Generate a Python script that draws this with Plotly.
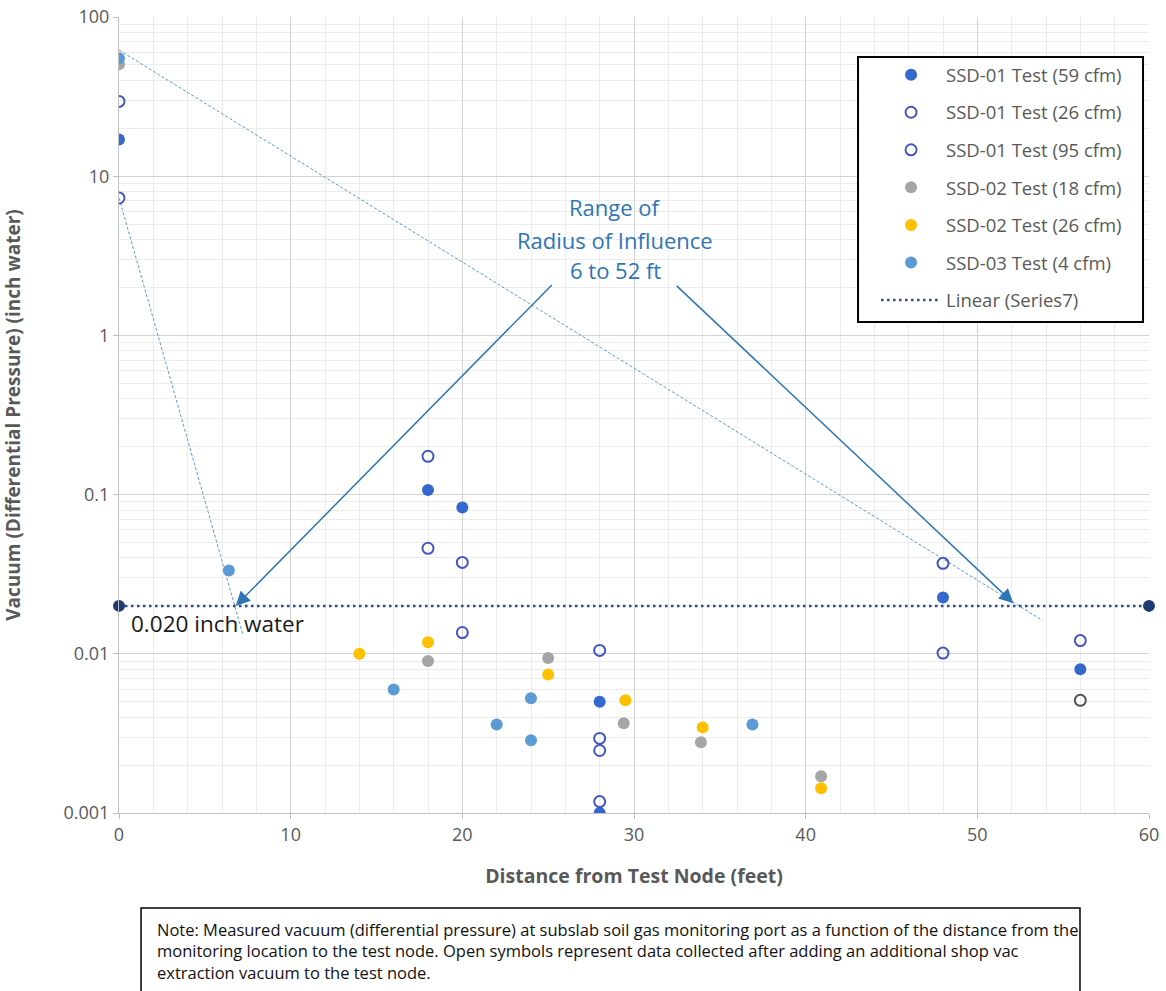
import math
import plotly.graph_objects as go

# ---------------- data ----------------
ssd01_59_x = [0, 18, 20, 28, 28, 48, 56]
ssd01_59_y = [17, 0.107, 0.083, 0.005, 0.001, 0.0226, 0.008]

ssd01_26_x = [0, 18, 20, 28, 28, 48, 56]
ssd01_26_y = [7.3, 0.046, 0.0136, 0.00247, 0.00118, 0.0101, 0.0051]

ssd01_95_x = [0, 18, 20, 28, 28, 48, 56]
ssd01_95_y = [29.5, 0.174, 0.0375, 0.0105, 0.00294, 0.037, 0.0121]

ssd02_18_x = [0, 18, 25, 29.4, 33.9, 40.9]
ssd02_18_y = [50.4, 0.0090, 0.0094, 0.00366, 0.00278, 0.0017]

ssd02_26_x = [14, 18, 25, 29.5, 34, 40.9]
ssd02_26_y = [0.0100, 0.0118, 0.0074, 0.0051, 0.00345, 0.00143]

ssd03_4_x = [0, 6.4, 16, 22, 24, 24, 36.9]
ssd03_4_y = [55, 0.0334, 0.00597, 0.0036, 0.00525, 0.00286, 0.0036]

series7_x = [0, 60]
series7_y = [0.02, 0.02]

# hand-drawn guide lines (log-linear decay lines)
guide1_x = [0, 53.8]
guide1_y = [62, 0.0162]
guide2_x = [0, 7.2]
guide2_y = [7.3, 0.0134]

# arrows: tails and heads
arrow_tails_x = [25.3, 32.4]
arrow_tails_y = [2.12, 2.09]
arrow_heads_x = [6.8, 52.1]
arrow_heads_y = [0.020, 0.0208]

roi_lines = ["Range of", "Radius of Influence", "6 to 52 ft"]
roi_x = 28.9
roi_y = [6.4, 3.95, 2.56]

threshold_label = "0.020 inch water"

note_text = ("Note: Measured vacuum (differential pressure) at subslab soil gas monitoring port as a function of the distance from the<br>"
             "monitoring location to the test node. Open symbols represent data collected after adding an additional shop vac<br>"
             "extraction vacuum to the test node.")

# ---------------- styles ----------------
FONT = "Open Sans"
GRAY_TXT = "#595959"
BLUE_FILL = "#3568CC"
BLUE_OPEN = "#4656C0"
GRAY_PT = "#A5A5A5"
YELLOW = "#FFC000"
LIGHT_BLUE = "#5B9BD5"
NAVY = "#1F3A6E"
ARROW = "#2E75B6"
MS = 12

fig = go.Figure()

# guide lines (no legend)
for gx, gy in ((guide1_x, guide1_y), (guide2_x, guide2_y)):
    fig.add_trace(go.Scatter(x=gx, y=gy, mode="lines", showlegend=False, hoverinfo="skip",
                             line=dict(color=LIGHT_BLUE, width=1, dash="3px,2px")))

open26_colors = [BLUE_OPEN] * (len(ssd01_26_x) - 1) + ["#555555"]

fig.add_trace(go.Scatter(x=ssd01_59_x, y=ssd01_59_y, mode="markers", name="SSD-01 Test (59 cfm)",
                         legendgroup="a", marker=dict(color=BLUE_FILL, size=MS)))
fig.add_trace(go.Scatter(x=ssd01_26_x, y=ssd01_26_y, mode="markers", name="SSD-01 Test (26 cfm)",
                         legendgroup="b", marker=dict(symbol="circle-open", color=open26_colors, size=MS - 1,
                                                      line=dict(width=2))))
fig.add_trace(go.Scatter(x=ssd01_95_x, y=ssd01_95_y, mode="markers", name="SSD-01 Test (95 cfm)",
                         legendgroup="c", marker=dict(symbol="circle-open", color=BLUE_OPEN, size=MS - 1,
                                                      line=dict(width=2))))
fig.add_trace(go.Scatter(x=ssd02_18_x, y=ssd02_18_y, mode="markers", name="SSD-02 Test (18 cfm)",
                         legendgroup="d", marker=dict(color=GRAY_PT, size=MS)))
fig.add_trace(go.Scatter(x=ssd02_26_x, y=ssd02_26_y, mode="markers", name="SSD-02 Test (26 cfm)",
                         legendgroup="e", marker=dict(color=YELLOW, size=MS)))
fig.add_trace(go.Scatter(x=ssd03_4_x, y=ssd03_4_y, mode="markers", name="SSD-03 Test (4 cfm)",
                         legendgroup="f", marker=dict(color=LIGHT_BLUE, size=MS)))
fig.add_trace(go.Scatter(x=series7_x, y=series7_y, mode="lines", name="Linear (Series7)",
                         legendgroup="g", line=dict(color="#2B4A8B", width=2.5, dash="2.5px,3.5px")))
fig.add_trace(go.Scatter(x=series7_x, y=series7_y, mode="markers", showlegend=False, cliponaxis=False,
                         marker=dict(color=NAVY, size=MS)))

annotations = []
for tx, ty, hx, hy in zip(arrow_tails_x, arrow_tails_y, arrow_heads_x, arrow_heads_y):
    annotations.append(dict(x=hx, y=math.log10(hy), ax=tx, ay=math.log10(ty), xref="x", yref="y",
                            axref="x", ayref="y", showarrow=True, arrowhead=2, arrowsize=1.9,
                            arrowwidth=1.5, arrowcolor=ARROW, text=""))
for line, ly in zip(roi_lines, roi_y):
    annotations.append(dict(x=roi_x, y=math.log10(ly), xref="x", yref="y", text=line, showarrow=False,
                            font=dict(family=FONT, size=22, color=ARROW), xanchor="center", yanchor="middle"))
annotations.append(dict(x=0.6, y=math.log10(0.0155), xref="x", yref="y", text=threshold_label,
                        showarrow=False, xanchor="left", yanchor="middle",
                        font=dict(family=FONT, size=22.5, color="#1a1a1a")))
annotations.append(dict(x=0.035, y=-0.1294, xref="paper", yref="paper", text=note_text, showarrow=False,
                        xanchor="left", yanchor="top", align="left",
                        font=dict(family=FONT, size=16.5, color="#111111")))

shapes = [
    # legend frame
    dict(type="rect", xref="paper", yref="paper", x0=0.7175, x1=0.9942, y0=0.6168, y1=0.9497,
         fillcolor="white", line=dict(color="black", width=2), layer="above"),
    # note frame (runs off the bottom of the page, as in the reference)
    dict(type="rect", xref="paper", yref="paper", x0=0.0214, x1=0.9330, y0=-0.35, y1=-0.1194,
         fillcolor="rgba(0,0,0,0)", line=dict(color="black", width=1.5)),
]

fig.update_layout(
    width=1166, height=991,
    margin=dict(l=119, r=17, t=17, b=178),
    paper_bgcolor="white", plot_bgcolor="white",
    font=dict(family=FONT, color=GRAY_TXT, size=15),
    annotations=annotations, shapes=shapes,
    legend=dict(x=0.735, y=0.9508, xanchor="left", yanchor="top", bgcolor="rgba(0,0,0,0)",
                borderwidth=0, font=dict(family=FONT, size=18.5, color=GRAY_TXT),
                itemwidth=60, tracegroupgap=10.5, traceorder="grouped"),
)
fig.update_xaxes(range=[0, 60], dtick=10, tick0=0, showgrid=True, gridcolor="#D3D3D3", gridwidth=1,
                 minor=dict(dtick=2, showgrid=True, gridcolor="#ECECEC", gridwidth=1),
                 zeroline=False, showline=True, linecolor="#BFBFBF", ticks="outside", ticklen=5,
                 tickcolor="#BFBFBF", tickfont=dict(size=18, color=GRAY_TXT), automargin=False,
                 ticklabeloverflow="allow",
                 title=dict(text="<b>Distance from Test Node (feet)</b>", font=dict(size=19.5, color=GRAY_TXT),
                            standoff=24))
fig.update_yaxes(type="log", range=[-3, 2], dtick=1, showgrid=True, gridcolor="#D3D3D3", gridwidth=1,
                 minor=dict(dtick="D1", showgrid=True, gridcolor="#ECECEC", gridwidth=1),
                 zeroline=False, showline=True, linecolor="#BFBFBF", ticks="outside", ticklen=5,
                 tickcolor="#BFBFBF", tickfont=dict(size=18, color=GRAY_TXT), automargin=False,
                 ticklabeloverflow="allow",
                 title=dict(text="<b>Vacuum (Differential Pressure) (inch water)</b>",
                            font=dict(size=19, color=GRAY_TXT), standoff=40))

# remove the browser's default 8px page margin so the figure fills the window exactly
fig.write_html("out.html", config={"displayModeBar": False},
               post_script="document.body.style.margin='0';")
